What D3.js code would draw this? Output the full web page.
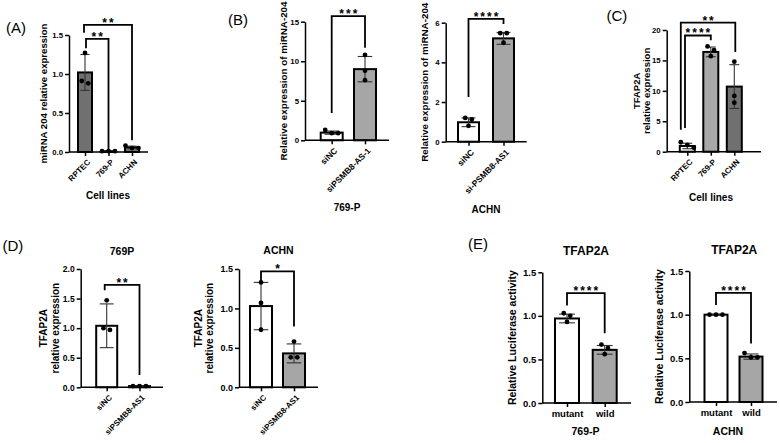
<!DOCTYPE html>
<html><head><meta charset="utf-8">
<script src="https://cdn.jsdelivr.net/npm/d3@7"></script>
<style>body{margin:0;background:#fff}svg{display:block}</style>
</head><body><svg id="c" width="780" height="443"></svg>
<script>
// ---------------- data ----------------
// Panel A
const catsA = ["RPTEC", "769-P", "ACHN"];
const meanA = [1.02, 0.01, 0.06];
const sdA = [0.23, 0.004, 0.015];
const ptsA = [[1.27, 0.91, 0.88], [0.01, 0.01, 0.01], [0.08, 0.05, 0.05]];
const ticksA = [0, 0.5, 1.0, 1.5];
const sigA = ["**", "**"];
const yTitleA = ["miRNA 204 relative expression"];

// Panel B left (769-P)
const catsB1 = ["siNC", "siPSMB8-AS-1"];
const meanB1 = [0.97, 9.0];
const sdB1 = [0.2, 1.6];
const ptsB1 = [[1.3, 0.9, 0.9], [10.8, 8.8, 7.6]];
const ticksB1 = [0, 5, 10, 15];
const sigB1 = ["***"];
const yTitleB = ["Relative expression of miRNA-204"];

// Panel B right (ACHN)
const catsB2 = ["siNC", "si-PSMB8-AS1"];
const meanB2 = [0.98, 5.21];
const sdB2 = [0.22, 0.3];
const ptsB2 = [[1.2, 1.12, 0.8], [5.47, 5.47, 4.99]];
const ticksB2 = [0, 2, 4, 6];
const sigB2 = ["****"];

// Panel C
const catsC = ["RPTEC", "769-P", "ACHN"];
const meanC = [0.94, 16.4, 10.7];
const sdC = [0.45, 0.8, 3.6];
const ptsC = [[1.55, 1.1, 0.66], [17.3, 16.7, 15.7], [14.8, 9.16, 8.06]];
const ticksC = [0, 5, 10, 15, 20];
const sigC = ["**", "****"];
const yTitleTF = ["TFAP2A", "relative expression"];

// Panel D left (769P)
const catsD1 = ["siNC", "siPSMB8-AS1"];
const meanD1 = [1.04, 0.02];
const sdD1 = [0.37, 0.005];
const ptsD1 = [[1.47, 0.97, 1.0], [0.02, 0.02, 0.02]];
const ticksD1 = [0, 0.5, 1.0, 1.5, 2.0];
const sigD1 = ["**"];

// Panel D right (ACHN)
const catsD2 = ["siNC", "siPSMB8-AS1"];
const meanD2 = [1.03, 0.43];
const sdD2 = [0.3, 0.12];
const ptsD2 = [[1.33, 1.07, 0.73], [0.58, 0.38, 0.38]];
const ticksD2 = [0, 0.5, 1.0, 1.5];
const sigD2 = ["*"];

// Panel E left (769-P)
const catsE1 = ["mutant", "wild"];
const meanE1 = [0.97, 0.61];
const sdE1 = [0.05, 0.05];
const ptsE1 = [[1.03, 1.0, 0.93], [0.67, 0.63, 0.56]];
const ticksE = [0, 0.5, 1.0, 1.5];
const sigE1 = ["****"];
const yTitleE = ["Relative Luciferase activity"];

// Panel E right (ACHN)
const catsE2 = ["mutant", "wild"];
const meanE2 = [1.0, 0.52];
const sdE2 = [0.005, 0.03];
const ptsE2 = [[1.0, 1.0, 1.0], [0.56, 0.51, 0.51]];
const sigE2 = ["****"];

// ---------------- drawing ----------------
const FONT = '"Liberation Sans", Arial, Helvetica, sans-serif';
const svg = d3.select("#c");
const GRAY = "#a6a6a6", DARK = "#707070";

function txt(x, y, s, opt) {
  opt = opt || {};
  const t = svg.append("text").attr("x", x).attr("y", y).text(s)
    .attr("font-family", FONT).attr("font-size", opt.fs || 10)
    .attr("font-weight", opt.bold === false ? "normal" : "bold")
    .attr("text-anchor", opt.anchor || "middle")
    .attr("dominant-baseline", "central").attr("fill", "#000");
  if (opt.rot) t.attr("transform", `rotate(${opt.rot},${x},${y})`);
  return t;
}

function drawPanel(d, L) {
  const g = svg.append("g");
  const y = d3.scaleLinear().domain([0, d3.max(d.ticks)]).range([L.yBase, L.yTop]);
  const x = d3.scalePoint().domain(d.cats).range([L.c0, L.c1]);

  // bars
  g.selectAll("rect.bar").data(d.cats).join("rect").attr("class", "bar")
    .attr("x", c => x(c) - L.bw / 2).attr("width", L.bw)
    .attr("y", (c, i) => y(d.mean[i]))
    .attr("height", (c, i) => Math.max(0.5, L.yBase - y(d.mean[i])))
    .attr("fill", (c, i) => L.fills[i]).attr("stroke", "#000").attr("stroke-width", 2);

  // error bars
  d.cats.forEach((c, i) => {
    const cx = x(c), lo = y(Math.max(0, d.mean[i] - d.sd[i])), hi = y(d.mean[i] + d.sd[i]);
    const cw = L.bw * 0.33;
    const eg = g.append("g").attr("stroke", "#333").attr("stroke-width", 1.1);
    eg.append("line").attr("x1", cx).attr("x2", cx).attr("y1", lo).attr("y2", hi);
    eg.append("line").attr("x1", cx - cw).attr("x2", cx + cw).attr("y1", hi).attr("y2", hi);
    eg.append("line").attr("x1", cx - cw).attr("x2", cx + cw).attr("y1", lo).attr("y2", lo);
  });

  // points (simple cluster spreading)
  const r = 2.4, step = L.ptStep || 6.5;
  d.cats.forEach((c, i) => {
    const ps = d.pts[i].map(v => ({ v, py: y(v) })).sort((a, b) => a.py - b.py);
    const clusters = [];
    ps.forEach(p => {
      const last = clusters[clusters.length - 1];
      if (last && p.py - last[last.length - 1].py < 2 * r + 1) last.push(p);
      else clusters.push([p]);
    });
    clusters.forEach(cl => cl.forEach((p, k) => { p.px = x(c) + (k - (cl.length - 1) / 2) * step; }));
    g.selectAll(null).data(ps).join("circle")
      .attr("cx", p => p.px).attr("cy", p => p.py).attr("r", r).attr("fill", "#000");
  });

  // y axis
  const ya = d3.axisLeft(y).tickValues(d.ticks).tickFormat(d3.format(L.fmt))
    .tickSize(4).tickSizeOuter(0).tickPadding(2);
  const yg = g.append("g").attr("transform", `translate(${L.x0},0)`).call(ya)
    .attr("font-family", FONT).attr("font-size", L.tickFs).attr("font-weight", "bold");
  yg.select(".domain").attr("stroke", "#000").attr("stroke-width", 1.5);
  yg.selectAll(".tick line").attr("stroke", "#000").attr("stroke-width", 1.5);
  yg.selectAll(".tick text").attr("fill", "#000");

  // x axis
  const xa = d3.axisBottom(x).tickSize(4).tickSizeOuter(0).tickPadding(3)
    .tickFormat(L.rot ? () => "" : null);
  const xg = g.append("g").attr("transform", `translate(0,${L.yBase})`).call(xa)
    .attr("font-family", FONT).attr("font-size", L.xFs).attr("font-weight", "bold");
  xg.select(".domain").remove();
  xg.selectAll(".tick line").attr("stroke", "#000").attr("stroke-width", 1.5);
  xg.selectAll(".tick text").attr("fill", "#000");
  g.append("line").attr("x1", L.x0).attr("x2", L.x1).attr("y1", L.yBase).attr("y2", L.yBase)
    .attr("stroke", "#000").attr("stroke-width", 1.5);
  if (L.rot) {
    g.selectAll("text.xl").data(d.cats).join("text").attr("class", "xl")
      .attr("transform", c => `translate(${x(c) + 4},${L.yBase + 9}) rotate(-45)`)
      .attr("text-anchor", "end").attr("dominant-baseline", "central")
      .attr("font-family", FONT).attr("font-size", L.xFs).attr("font-weight", "bold")
      .text(c => c);
  }

  // significance brackets
  const ls = 2;
  L.br.forEach((b, k) => {
    const xa1 = x(d.cats[b.i]) + (b.dl || 0), xb1 = x(d.cats[b.j]) + (b.dr || 0);
    const yl = y(b.lv);
    g.append("path")
      .attr("d", `M${xa1},${y(b.l)}V${yl}H${xb1}V${y(b.r)}`)
      .attr("fill", "none").attr("stroke", "#000").attr("stroke-width", 1.8);
    g.append("text").attr("x", (xa1 + xb1) / 2 + ls / 2).attr("y", yl + 2)
      .attr("text-anchor", "middle").attr("font-family", FONT).attr("font-size", 12)
      .attr("letter-spacing", ls).attr("font-weight", "bold").text(d.sig[k]);
  });

  // y title
  d.yTitle.forEach((s, k) => {
    txt(L.yLabX[k], (L.yBase + L.yTop) / 2, s, { fs: L.yLabFs, rot: -90 });
  });
  if (L.title) txt(L.title[0], L.title[1], d.title, { fs: L.title[2] });
  if (L.xTitle) txt(L.xTitle[0], L.xTitle[1], d.xTitle, { fs: L.xTitle[2] });
}

// Panel labels
txt(6, 27, "(A)", { fs: 15, bold: false, anchor: "start" });
txt(228, 19.5, "(B)", { fs: 15, bold: false, anchor: "start" });
txt(606.5, 15, "(C)", { fs: 15, bold: false, anchor: "start" });
txt(2.5, 245, "(D)", { fs: 15, bold: false, anchor: "start" });
txt(468, 243, "(E)", { fs: 15, bold: false, anchor: "start" });

drawPanel(
  { cats: catsA, mean: meanA, sd: sdA, pts: ptsA, ticks: ticksA, sig: sigA, yTitle: yTitleA, xTitle: "Cell lines" },
  { x0: 69, x1: 148, yBase: 152, yTop: 35, c0: 85, c1: 132, bw: 14, fills: [DARK, DARK, DARK],
    fmt: ".1f", tickFs: 7.8, xFs: 8, rot: true, yLabX: [43], yLabFs: 9.6, xTitle: [108, 195.5, 10],
    br: [{ i: 0, j: 2, lv: 1.63, l: 1.53, r: 0.15, dl: -1 }, { i: 0, j: 1, lv: 1.45, l: 1.33, r: 0.04, dl: 1 }] });

drawPanel(
  { cats: catsB1, mean: meanB1, sd: sdB1, pts: ptsB1, ticks: ticksB1, sig: sigB1, yTitle: yTitleB, xTitle: "769-P" },
  { x0: 305, x1: 389, yBase: 140.3, yTop: 21.7, c0: 331.7, c1: 365, bw: 22, fills: ["#fff", GRAY],
    fmt: "d", tickFs: 7.8, xFs: 8.5, rot: true, yLabX: [283], yLabFs: 9.8, xTitle: [347, 207, 10],
    br: [{ i: 0, j: 1, lv: 15.7, l: 3.45, r: 11.7 }] });

drawPanel(
  { cats: catsB2, mean: meanB2, sd: sdB2, pts: ptsB2, ticks: ticksB2, sig: sigB2, yTitle: yTitleB, xTitle: "ACHN" },
  { x0: 445.7, x1: 526.7, yBase: 141.7, yTop: 22.7, c0: 468.5, c1: 503.5, bw: 21, fills: ["#fff", GRAY],
    fmt: "d", tickFs: 7.8, xFs: 8.5, rot: true, yLabX: [425], yLabFs: 9.8, xTitle: [486, 209.5, 10],
    br: [{ i: 0, j: 1, lv: 6.19, l: 2.25, r: 5.93 }] });

drawPanel(
  { cats: catsC, mean: meanC, sd: sdC, pts: ptsC, ticks: ticksC, sig: sigC, yTitle: yTitleTF, xTitle: "Cell lines" },
  { x0: 666.7, x1: 761, yBase: 151.7, yTop: 30, c0: 687.3, c1: 734.3, bw: 15, fills: ["#fff", "#a8a8a8", DARK],
    fmt: "d", tickFs: 7.8, xFs: 8, rot: true, yLabX: [637, 647], yLabFs: 9.5, xTitle: [711, 197.5, 10],
    br: [{ i: 0, j: 2, lv: 21.2, l: 3.6, r: 16.4, dl: -6.5, dr: 1 }, { i: 0, j: 1, lv: 19.1, l: 3.9, r: 18.3, dl: -2.3 }] });

drawPanel(
  { cats: catsD1, mean: meanD1, sd: sdD1, pts: ptsD1, ticks: ticksD1, sig: sigD1, yTitle: yTitleTF, title: "769P" },
  { x0: 80.7, x1: 163, yBase: 387.3, yTop: 269, c0: 106.7, c1: 139.5, bw: 21, fills: ["#fff", GRAY],
    fmt: ".1f", tickFs: 8.5, xFs: 8, rot: true, yLabX: [43.5, 56], yLabFs: 10, title: [122, 251, 10.5],
    br: [{ i: 0, j: 1, lv: 1.73, l: 1.64, r: 0.21, dl: -2 }] });

drawPanel(
  { cats: catsD2, mean: meanD2, sd: sdD2, pts: ptsD2, ticks: ticksD2, sig: sigD2, yTitle: yTitleTF, title: "ACHN" },
  { x0: 239, x1: 318, yBase: 387.3, yTop: 269, c0: 261, c1: 294, bw: 22, fills: ["#fff", GRAY],
    fmt: ".1f", tickFs: 9, xFs: 8, rot: true, yLabX: [198.5, 209.5], yLabFs: 10, title: [278.5, 249.5, 10.5],
    br: [{ i: 0, j: 1, lv: 1.47, l: 1.34, r: 0.77 }] });

drawPanel(
  { cats: catsE1, mean: meanE1, sd: sdE1, pts: ptsE1, ticks: ticksE, sig: sigE1, yTitle: yTitleE, title: "TFAP2A", xTitle: "769-P" },
  { x0: 542.3, x1: 631, yBase: 403, yTop: 272.3, c0: 567, c1: 604.7, bw: 24, fills: ["#fff", GRAY],
    fmt: ".1f", tickFs: 9.5, xFs: 9.5, rot: false, yLabX: [511.7], yLabFs: 10.5, title: [586, 251, 12], xTitle: [585.5, 431, 10.5],
    br: [{ i: 0, j: 1, lv: 1.26, l: 1.12, r: 0.80 }] });

drawPanel(
  { cats: catsE2, mean: meanE2, sd: sdE2, pts: ptsE2, ticks: ticksE, sig: sigE2, yTitle: yTitleE, title: "TFAP2A", xTitle: "ACHN" },
  { x0: 689.3, x1: 777, yBase: 402, yTop: 271, c0: 716, c1: 751, bw: 23, fills: ["#fff", GRAY],
    fmt: ".1f", tickFs: 9.5, xFs: 9.5, rot: false, yLabX: [659], yLabFs: 10.5, title: [734.3, 250, 12], xTitle: [728, 431, 10.5],
    br: [{ i: 0, j: 1, lv: 1.25, l: 1.11, r: 0.67 }] });
</script>
</body></html>
